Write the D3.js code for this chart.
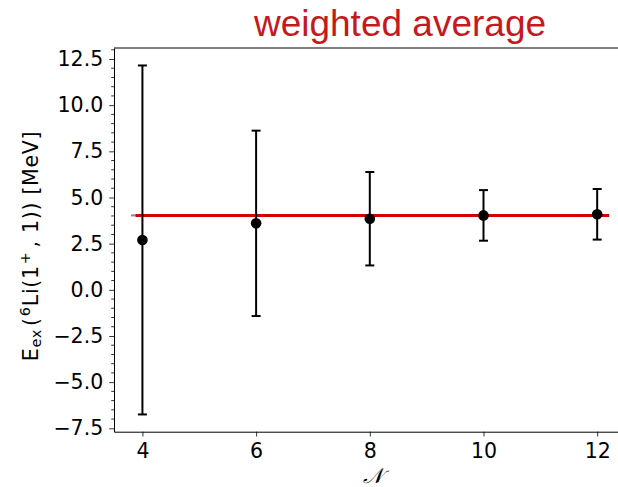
<!DOCTYPE html>
<html><head><meta charset="utf-8">
<script src="https://cdn.jsdelivr.net/npm/d3@7"></script>
<style>body{margin:0;background:#fff}svg{display:block}</style>
</head><body>
<svg id="c" width="618" height="487"></svg>
<script>
// data
const nValues = [4, 6, 8, 10, 12];
const energies = [2.70, 3.60, 3.85, 4.03, 4.09];
const errors = [9.45, 5.02, 2.53, 1.37, 1.37];
const weightedAverage = 4.03;
const averageSpan = [3.88, 12.21];
const greySpan = [3.80, 3.90];
const xTicks = [4, 6, 8, 10, 12];
const yTicks = [-7.5, -5.0, -2.5, 0.0, 2.5, 5.0, 7.5, 10.0, 12.5];
const titleText = "weighted average";

const svg = d3.select("#c");
const L = 114, R = 625.6, T = 48, B = 431.7;
const x = d3.scaleLinear().domain([3.5, 12.5]).range([L, R]);
const y = d3.scaleLinear().domain([-7.684, 13.096]).range([B, T]);

// minor y ticks
const minor = d3.range(-7.5, 13.01, 0.5).filter(v => Math.abs(v / 2.5 - Math.round(v / 2.5)) > 1e-6);
svg.append("g").selectAll("line").data(minor).join("line")
  .attr("x1", L).attr("x2", L - 2.8).attr("y1", d => y(d)).attr("y2", d => y(d))
  .attr("stroke", "#000").attr("stroke-width", 0.8);

const yAxis = svg.append("g").attr("transform", `translate(${L},0)`)
  .call(d3.axisLeft(y).tickValues(yTicks).tickFormat(d3.format(".1f")).tickSizeInner(4.8).tickSizeOuter(0).tickPadding(6));
const xAxis = svg.append("g").attr("transform", `translate(0,${B})`)
  .call(d3.axisBottom(x).tickValues(xTicks).tickSizeInner(4.8).tickSizeOuter(0).tickPadding(6.5));
[yAxis, xAxis].forEach(a => {
  a.selectAll("text").attr("font-family", "DejaVu Sans").attr("font-size", 20.5).attr("fill", "#000");
  a.selectAll("line").attr("stroke", "#000").attr("stroke-width", 0.8);
  a.select(".domain").attr("stroke", "#000").attr("stroke-width", 1);
});
// top and right spines
svg.append("line").attr("x1", L).attr("x2", R).attr("y1", T).attr("y2", T).attr("stroke", "#000").attr("stroke-width", 1);
svg.append("line").attr("x1", R).attr("x2", R).attr("y1", T).attr("y2", B).attr("stroke", "#000").attr("stroke-width", 1);

// average lines
svg.append("line").attr("x1", x(greySpan[0])).attr("x2", x(greySpan[1]))
  .attr("y1", y(weightedAverage)).attr("y2", y(weightedAverage))
  .attr("stroke", "#888").attr("stroke-width", 2);
svg.append("line").attr("x1", x(averageSpan[0])).attr("x2", x(averageSpan[1]))
  .attr("y1", y(weightedAverage)).attr("y2", y(weightedAverage))
  .attr("stroke", "#d40000").attr("stroke-width", 3);

// error bars
const pts = nValues.map((n, i) => ({n, e: energies[i], err: errors[i]}));
const eb = svg.append("g").attr("stroke", "#000").attr("stroke-width", 2);
eb.selectAll(".v").data(pts).join("line")
  .attr("x1", d => x(d.n)).attr("x2", d => x(d.n))
  .attr("y1", d => y(d.e - d.err)).attr("y2", d => y(d.e + d.err));
eb.selectAll(".ct").data(pts).join("line")
  .attr("x1", d => x(d.n) - 4.5).attr("x2", d => x(d.n) + 4.5)
  .attr("y1", d => y(d.e + d.err)).attr("y2", d => y(d.e + d.err));
eb.selectAll(".cb").data(pts).join("line")
  .attr("x1", d => x(d.n) - 4.5).attr("x2", d => x(d.n) + 4.5)
  .attr("y1", d => y(d.e - d.err)).attr("y2", d => y(d.e - d.err));
svg.append("g").selectAll("circle").data(pts).join("circle")
  .attr("cx", d => x(d.n)).attr("cy", d => y(d.e)).attr("r", 5.3).attr("fill", "#000");

// title
svg.append("text").attr("x", 400).attr("y", 36).attr("text-anchor", "middle")
  .attr("font-family", "Liberation Sans").attr("font-size", 37).attr("fill", "#c8171e")
  .text(titleText);

// x label
svg.append("text").attr("x", 373).attr("y", 483).attr("text-anchor", "middle")
  .attr("font-family", "DejaVu Serif").attr("font-style", "italic").attr("font-size", 21)
  .text("𝒩");

// y label
const yl = svg.append("text").attr("transform", "translate(37.5,246) rotate(-90)")
  .attr("text-anchor", "middle").attr("font-family", "DejaVu Sans").attr("font-size", 20.5).attr("fill", "#000")
  .attr("letter-spacing", 0.7);
yl.append("tspan").text("E");
yl.append("tspan").attr("font-size", 14.5).attr("dy", 3.5).text("ex");
yl.append("tspan").attr("dy", -3.5).attr("dx", 3).text("(");
yl.append("tspan").attr("font-size", 14.5).attr("dy", -8).attr("dx", 1).text("6");
yl.append("tspan").attr("dy", 8).text("Li(1");
yl.append("tspan").attr("font-size", 14.5).attr("dy", -8).attr("dx", 1).text("+");
yl.append("tspan").attr("dy", 8).attr("dx", 4).text(", 1)) [MeV]");
</script>
</body></html>
